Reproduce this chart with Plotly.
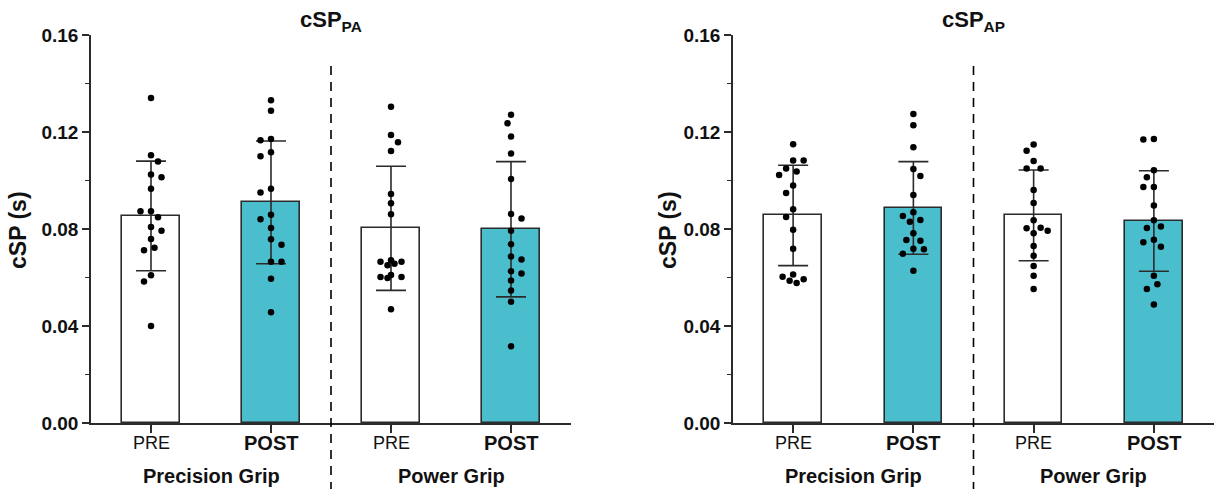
import plotly.graph_objects as go

# ---------------- data ----------------
categories = ["PRE", "POST", "PRE", "POST"]
tick_labels = ["PRE", "<b>POST</b>", "PRE", "<b>POST</b>"]
groups = ["Precision Grip", "Power Grip"]
panel_titles = ["<b>cSP<sub>PA</sub></b>", "<b>cSP<sub>AP</sub></b>"]
y_title = "<b>cSP (s)</b>"
y_ticks = [0.00, 0.04, 0.08, 0.12, 0.16]

pa_mean = [0.0854, 0.0910, 0.0803, 0.0799]
pa_sd = [0.0226, 0.0253, 0.0256, 0.0279]
ap_mean = [0.0856, 0.0887, 0.0856, 0.0833]
ap_sd = [0.0207, 0.0191, 0.0187, 0.0207]

pa_pre_precision = [0.134, 0.1104, 0.1078, 0.1025, 0.1013, 0.0966, 0.0873, 0.0873, 0.0848,
                    0.0808, 0.0793, 0.0759, 0.0723, 0.0712, 0.0609, 0.0584, 0.040]
pa_post_precision = [0.1331, 0.1288, 0.1171, 0.1166, 0.1116, 0.1100, 0.0966, 0.0951, 0.0859,
                     0.0840, 0.0804, 0.0758, 0.0735, 0.0665, 0.0665, 0.0595, 0.0457]
pa_pre_power = [0.1304, 0.1188, 0.1158, 0.1122, 0.0944, 0.0906, 0.0861, 0.0657, 0.0651,
                0.0671, 0.0665, 0.0665, 0.0610, 0.0602, 0.0602, 0.0598, 0.0469]
pa_post_power = [0.1271, 0.1236, 0.1181, 0.1111, 0.1006, 0.0862, 0.0843, 0.0793, 0.0737,
                 0.0687, 0.0674, 0.0626, 0.0616, 0.0588, 0.0546, 0.0500, 0.0316]

ap_pre_precision = [0.1149, 0.1082, 0.1082, 0.1049, 0.1037, 0.1023, 0.0979, 0.0948, 0.0881,
                    0.0849, 0.0797, 0.0719, 0.0612, 0.0603, 0.0593, 0.0587, 0.0577]
ap_post_precision = [0.1274, 0.1228, 0.1137, 0.1047, 0.1019, 0.0940, 0.0869, 0.0854, 0.0837,
                     0.0830, 0.0782, 0.0755, 0.0752, 0.0719, 0.0716, 0.0698, 0.0628]
ap_pre_power = [0.1148, 0.1123, 0.1080, 0.1049, 0.1049, 0.0961, 0.0907, 0.0836, 0.0805,
                0.0803, 0.0793, 0.0782, 0.0730, 0.0690, 0.0647, 0.0607, 0.0553]
ap_post_power = [0.1171, 0.1169, 0.1042, 0.1013, 0.0973, 0.0973, 0.0897, 0.0836, 0.0810,
                 0.0804, 0.0756, 0.0745, 0.0727, 0.0607, 0.0572, 0.0553, 0.0489]

pa_points = [pa_pre_precision, pa_post_precision, pa_pre_power, pa_post_power]
ap_points = [ap_pre_precision, ap_post_precision, ap_pre_power, ap_post_power]

# ---------------- style ----------------
W, H = 1214, 489
M_T, M_B = 35, 66
PLOT_H = H - M_T - M_B
DOMAINS = [[91 / W, 571 / W], [733 / W, 1.0]]
Y_RANGE = [0, 0.16]
X_RANGE = [-0.5, 3.5]
BAR_W = 0.48
TEAL = "#4BBECE"
AX = "#2b2b2b"
FONT = "Liberation Sans, Arial, sans-serif"
bar_fills = ["white", TEAL, "white", TEAL]
tick_label_sizes = [18, 20, 18, 20]

PX_PER_Y = PLOT_H / (Y_RANGE[1] - Y_RANGE[0])
PX_PER_X = 480 / (X_RANGE[1] - X_RANGE[0])


def py(pixel_y):
    """pixel row in the figure -> paper y coordinate"""
    return (H - M_B - pixel_y) / PLOT_H


def swarm_offsets(values, step_px=3.5, max_steps=4, min_dist=9.0):
    """Deterministic beeswarm-style horizontal spread (returned in category units)."""
    order = sorted(range(len(values)), key=lambda i: -values[i])
    placed = []
    offs = [0.0] * len(values)
    cand = [0]
    for k in range(1, max_steps + 1):
        cand += [k, -k]
    for n, i in enumerate(order):
        yp = values[i] * PX_PER_Y
        best, best_d = None, -1
        c_list = cand if n % 2 == 0 else [-c for c in cand]
        for c in c_list:
            xp = c * step_px
            d = min([((xp - a) ** 2 + (yp - b) ** 2) ** 0.5 for a, b in placed] or [1e9])
            if d >= min_dist:
                best = c
                break
            if d > best_d:
                best_d, best = d, c
        placed.append((best * step_px, yp))
        offs[i] = best * step_px / PX_PER_X
    return offs


fig = go.Figure()
panels = [(pa_mean, pa_sd, pa_points), (ap_mean, ap_sd, ap_points)]
for p, (means, sds, pts) in enumerate(panels):
    xa = "x" if p == 0 else "x2"
    ya = "y" if p == 0 else "y2"
    fig.add_trace(go.Bar(
        x=list(range(len(categories))), y=means, width=BAR_W,
        marker=dict(color=bar_fills, line=dict(color=AX, width=1.6)),
        error_y=dict(type="data", array=sds, symmetric=True, color=AX,
                     thickness=1.6, width=15),
        xaxis=xa, yaxis=ya, showlegend=False, hoverinfo="y",
    ))
    for ci, vals in enumerate(pts):
        offs = swarm_offsets(vals)
        fig.add_trace(go.Scatter(
            x=[ci + o for o in offs], y=vals, mode="markers",
            marker=dict(color="black", size=6.5, line=dict(width=0)),
            xaxis=xa, yaxis=ya, showlegend=False, cliponaxis=False,
        ))

axis_common_x = dict(
    range=X_RANGE, tickmode="array", tickvals=list(range(len(categories))),
    ticks="outside", ticklen=8, tickwidth=1.6, tickcolor=AX, showticklabels=False,
    showline=True, linecolor=AX, linewidth=1.6, showgrid=False, zeroline=False,
    fixedrange=True,
)
axis_common_y = dict(
    range=Y_RANGE, tickmode="array", tickvals=y_ticks, tickformat=".2f",
    ticks="outside", ticklen=7, tickwidth=1.6, tickcolor=AX,
    showline=True, linecolor=AX, linewidth=1.6, showgrid=False, zeroline=False,
    tickfont=dict(family=FONT, size=19, color="#111", weight="bold"),
    minor=dict(dtick=0.02, tick0=0, ticks="outside", ticklen=4, tickwidth=1.4, tickcolor=AX),
    fixedrange=True,
)

fig.update_layout(
    width=W, height=H,
    margin=dict(l=0, r=0, t=M_T, b=M_B, pad=0),
    paper_bgcolor="white", plot_bgcolor="white",
    bargap=0,
    font=dict(family=FONT, color="#111"),
    xaxis=dict(domain=DOMAINS[0], anchor="y", **axis_common_x),
    yaxis=dict(domain=[0, 1], anchor="x", **axis_common_y),
    xaxis2=dict(domain=DOMAINS[1], anchor="y2", **axis_common_x),
    yaxis2=dict(domain=[0, 1], anchor="x2", **axis_common_y),
)

ytitle_x = [18 / W, 668 / W]
for p in range(2):
    xd = "x domain" if p == 0 else "x2 domain"
    xa = "x" if p == 0 else "x2"
    # dashed separator between grips
    fig.add_shape(type="line", xref=xd, yref="paper", x0=0.5, x1=0.5,
                  y0=py(H + 2), y1=py(62),
                  line=dict(color="black", width=1.6, dash="9px,7px"))
    # panel title
    fig.add_annotation(xref=xd, yref="paper", x=0.5, y=py(21),
                       text=panel_titles[p], showarrow=False, yanchor="middle",
                       font=dict(family=FONT, size=22, color="#111"))
    # category tick labels
    for ci, lab in enumerate(tick_labels):
        fig.add_annotation(xref=xa, yref="paper", x=ci, y=py(443),
                           text=lab, showarrow=False, yanchor="middle",
                           font=dict(family=FONT, size=tick_label_sizes[ci], color="#111"))
    # group labels
    for g, name in enumerate(groups):
        fig.add_annotation(xref=xa, yref="paper", x=2 * g + 0.5,
                           y=py(476), text="<b>%s</b>" % name,
                           showarrow=False, yanchor="middle",
                           font=dict(family=FONT, size=20, color="#111"))
    # y-axis title
    fig.add_annotation(xref="paper", yref="paper", x=ytitle_x[p], y=py(230),
                       text=y_title, showarrow=False, textangle=-90,
                       xanchor="center", yanchor="middle",
                       font=dict(family=FONT, size=23, color="#111"))

fig.write_html("out.html", config={"displayModeBar": False},
               post_script="document.body.style.margin='0';document.body.style.overflow='hidden';")
